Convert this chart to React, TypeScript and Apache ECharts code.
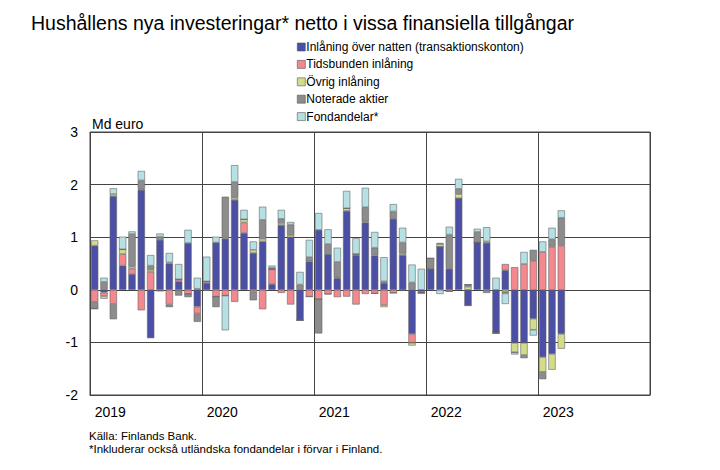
import React, { useEffect, useRef } from "react";
import * as echarts from "echarts";

const years = ["2019", "2020", "2021", "2022", "2023"];
const months = ["01", "02", "03", "04", "05", "06", "07", "08", "09", "10", "11", "12"];
const categories: string[] = [];
years.forEach((y) => months.forEach((m) => categories.push(`${y}-${m}`)));

const seriesNames = [
  "Inlåning över natten (transaktionskonton)",
  "Tidsbunden inlåning",
  "Övrig inlåning",
  "Noterade aktier",
  "Fondandelar*",
];

const overnight = [
  0.84, -0.05, 1.78, 0.46, 0.3, 1.9, -0.92, 0.95, 0.5, 0.16, 0.89, -0.32,
  0.13, 0.9, 0.97, 1.71, 1.08, 0.7, 0.92, 0.11, 1.23, 1.0, -0.58, 0.54,
  1.14, 0.68, 0.22, 1.5, 0.66, 1.28, 0.65, 0.13, 1.35, 0.66, -0.84, -0.04,
  0.4, 0.82, 0.4, 1.74, -0.3, 0.9, 0.89, -0.82, 0.37, -1.01, -1.01, -0.55,
  -1.28, -1.22, -0.84,
];
const timeDeposits = [
  -0.23, -0.07, -0.27, 0.22, 0.1, -0.39, 0.34, -0.02, -0.28, 0.04, -0.08, -0.13,
  0.03, -0.13, -0.11, -0.23, 0.2, -0.03, -0.37, 0.28, -0.06, -0.28, 0, -0.13,
  -0.18, -0.08, -0.14, -0.13, -0.28, -0.08, -0.07, -0.29, -0.06, -0.01, -0.17, -0.02,
  0, 0, -0.03, 0, 0, 0, 0, 0, 0.12, 0.43, 0.49, 0.55,
  0.72, 0.82, 0.84,
];
const otherDeposits = [
  0.1, -0.05, 0.04, 0.09, 0.04, 0.02, 0.04, 0, 0.02, 0, 0, 0.02,
  0, 0, 0, 0.04, 0.06, 0.06, 0.05, 0, 0.04, 0.04, 0, 0,
  0, 0, 0.02, 0.05, 0.02, 0.02, 0, -0.04, 0, 0.03, -0.05, 0,
  0.02, 0.05, 0, 0.08, 0.06, 0, 0.03, 0, -0.04, -0.18, -0.23, -0.21,
  -0.28, -0.3, -0.28,
];
const listedShares = [
  -0.13, 0.15, -0.29, 0, 0.62, 0.16, 0.08, 0.06, -0.05, -0.11, -0.06, -0.16,
  -0.02, -0.2, 0.8, 0.3, 0, -0.17, 0.36, 0.03, 0.08, 0.2, 0.1, 0.08,
  -0.65, 0.19, 0.29, 0, 0, 0.27, 0.15, 0.03, 0.14, 0.21, 0.14, 0,
  0.18, 0.02, 0.65, 0.1, 0.04, 0.2, -0.06, -0.01, -0.03, 0, -0.06, 0.21,
  -0.14, 0.14, 0.53,
];
const fundShares = [
  0, 0.08, 0.11, 0.24, 0.05, 0.18, 0.2, 0.06, 0.18, 0.29, 0.25, 0.21,
  0.47, 0.11, -0.66, 0.32, 0.18, 0.16, 0.25, 0.04, 0.17, 0.05, 0.24, 0.33,
  0.32, 0.28, 0.27, 0.33, 0.3, 0.37, 0.3, 0.46, 0.14, 0.28, 0.34, 0.4,
  0, -0.08, 0.15, 0.19, 0, 0.06, 0.27, 0.23, -0.2, -0.04, 0.23, -0.11,
  0.2, 0.22, 0.14,
];

const seriesData = [overnight, timeDeposits, otherDeposits, listedShares, fundShares];
const colors = ["#4B4FA6", "#F3888E", "#D3DC8B", "#8C8C8C", "#B5E1E5"];
const yTicks = { min: -2, max: 3, interval: 1 };

const FONT = "Liberation Sans, Arial, sans-serif";

export default function App() {
  const ref = useRef<HTMLDivElement>(null);
  useEffect(() => {
    if (!ref.current) return;
    const chart = echarts.init(ref.current, null, { renderer: "svg" });
    chart.setOption({
      animation: false,
      textStyle: { fontFamily: FONT, color: "#000" },
      title: {
        text: "Hushållens nya investeringar* netto i vissa finansiella tillgångar",
        left: 26,
        top: 8,
        textStyle: { fontFamily: FONT, fontSize: 19.5, fontWeight: "normal", color: "#000" },
      },
      legend: {
        orient: "vertical",
        left: 292,
        top: 36,
        itemWidth: 8,
        itemHeight: 8,
        itemGap: 5.4,
        icon: "rect",
        data: seriesNames,
        textStyle: { fontFamily: FONT, fontSize: 12, color: "#000", padding: [0, 0, 0, -4] },
        itemStyle: { borderColor: "#555", borderWidth: 0.6 },
      },
      grid: {
        left: 90,
        right: 70,
        top: 132,
        bottom: 75,
        show: true,
        borderColor: "#444",
        borderWidth: 1,
      },
      xAxis: {
        type: "category",
        data: categories,
        boundaryGap: true,
        axisLine: { show: true, onZero: false, lineStyle: { color: "#444" } },
        axisTick: { show: false },
        axisLabel: {
          interval: (i: number) => i % 12 === 0,
          formatter: (v: string) => v.slice(0, 4),
          align: "left",
          fontSize: 14,
          color: "#000",
          margin: 10,
          fontFamily: FONT,
        },
        splitLine: {
          show: true,
          interval: (i: number) => i % 12 === 0,
          lineStyle: { color: "#444", width: 1 },
        },
      },
      yAxis: {
        type: "value",
        min: yTicks.min,
        max: yTicks.max,
        interval: yTicks.interval,
        axisLine: { show: false },
        axisTick: { show: false },
        axisLabel: { fontSize: 14, color: "#000", margin: 12, fontFamily: FONT },
        splitLine: { show: true, lineStyle: { color: "#444", width: 1 } },
      },
      graphic: [
        {
          type: "text",
          left: 92,
          top: 117,
          style: { text: "Md euro", fontSize: 14, fontFamily: FONT, fill: "#000" },
        },
        {
          type: "text",
          left: 89,
          top: 430,
          style: { text: "Källa: Finlands Bank.", fontSize: 11.5, fontFamily: FONT, fill: "#000" },
        },
        {
          type: "text",
          left: 89,
          top: 443,
          style: {
            text: "*Inkluderar också utländska fondandelar i förvar i Finland.",
            fontSize: 11.5,
            fontFamily: FONT,
            fill: "#000",
          },
        },
      ],
      series: seriesNames.map((name, i) => ({
        name,
        type: "bar",
        stack: "total",
        barCategoryGap: "22%",
        data: seriesData[i],
        itemStyle: { color: colors[i], borderColor: "#666", borderWidth: 0.6 },
      })),
    });
    return () => chart.dispose();
  }, []);
  return (
    <div
      ref={ref}
      style={{ position: "fixed", left: 0, top: 0, width: 720, height: 470, background: "#fff" }}
    />
  );
}
